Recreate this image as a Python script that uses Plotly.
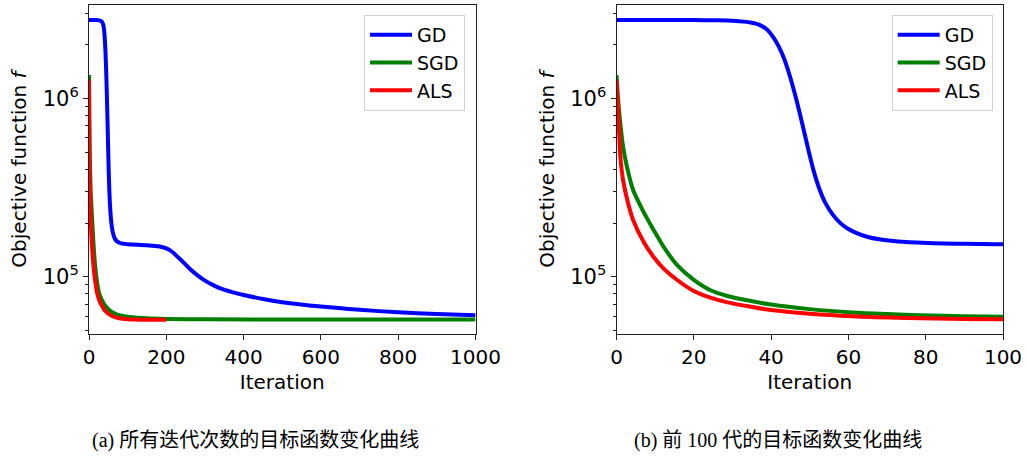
import plotly.graph_objects as go

# ---------------- data ----------------
gd_iter = [0, 10, 20, 26, 30, 33, 35, 37, 39, 40.5, 42, 43.5, 45, 46.5, 48, 49.5,
           51, 52.5, 54, 56, 58, 60, 62, 65, 68, 71, 75, 79, 85, 90, 100, 150, 180,
           200, 215, 228, 245, 262, 280, 297, 320, 340, 370, 400, 450, 500, 600, 700,
           800, 900, 1000]
gd_val = [2.75e6, 2.75e6, 2.745e6, 2.735e6, 2.72e6, 2.69e6, 2.65e6, 2.58e6, 2.42e6,
          2.21e6, 1.95e6, 1.64e6, 1.30e6, 9.9e5, 7.3e5, 5.3e5, 3.93e5, 3.1e5,
          2.6e5, 2.22e5, 1.99e5, 1.85e5, 1.76e5, 1.67e5, 1.62e5, 1.59e5, 1.565e5,
          1.55e5, 1.535e5, 1.53e5, 1.52e5, 1.50e5, 1.48e5, 1.44e5, 1.38e5, 1.30e5,
          1.20e5, 1.10e5, 1.02e5, 9.6e4, 9.0e4, 8.6e4, 8.2e4, 7.9e4, 7.5e4, 7.2e4,
          6.8e4, 6.52e4, 6.32e4, 6.18e4, 6.08e4]

sgd_iter = [0, 0.4, 0.9, 1.7, 2.6, 4.3, 7, 9.6, 12.2, 15.7, 20, 24.3, 28.7, 34.8, 40,
            50, 61, 70, 78.5, 90, 100, 150, 200, 300, 500, 1000]
sgd_val = [1.35e6, 1.0e6, 7.56e5, 5.36e5, 4.23e5, 3.06e5, 2.31e5, 1.83e5, 1.47e5,
           1.16e5, 9.6e4, 8.4e4, 7.8e4, 7.3e4, 6.98e4, 6.58e4, 6.3e4, 6.17e4, 6.08e4,
           6.01e4, 5.97e4, 5.85e4, 5.8e4, 5.77e4, 5.76e4, 5.75e4]

als_iter = [0, 0.3, 0.6, 1.0, 1.7, 3.0, 4.3, 7, 9.6, 12.2, 15.7, 20, 24.3, 28.7, 34.8,
            40, 50, 61, 75, 100, 150, 200]
als_val = [1.27e6, 9.3e5, 6.93e5, 4.71e5, 3.48e5, 2.58e5, 2.08e5, 1.57e5, 1.29e5,
           1.11e5, 9.58e4, 8.31e4, 7.63e4, 7.18e4, 6.79e4, 6.5e4, 6.2e4, 6.0e4,
           5.87e4, 5.77e4, 5.74e4, 5.73e4]

series_names = ["GD", "SGD", "ALS"]
captions = ["(a) 所有迭代次数的目标函数变化曲线", "(b) 前 100 代的目标函数变化曲线"]
x_ranges = [[0, 1000], [0, 100]]
x_dticks = [200, 20]
major_y = [1e5, 1e6]
major_y_text = ["10<sup>5</sup>", "10<sup>6</sup>"]
minor_y = [5e4, 6e4, 7e4, 8e4, 9e4, 2e5, 3e5, 4e5, 5e5, 6e5, 7e5, 8e5, 9e5, 2e6, 3e6]

# ---------------- figure ----------------
W, H = 1027, 463
colors = {"GD": "#0000ff", "SGD": "#008000", "ALS": "#ff0000"}
data = {"GD": (gd_iter, gd_val), "SGD": (sgd_iter, sgd_val), "ALS": (als_iter, als_val)}

fig = go.Figure()
for xa, ya, leg in [("x", "y", "legend"), ("x2", "y2", "legend2")]:
    for name in series_names:
        xs, ys = data[name]
        fig.add_trace(go.Scatter(
            x=xs, y=ys, mode="lines", name=name,
            line=dict(color=colors[name], width=4, shape="spline", smoothing=0.8),
            xaxis=xa, yaxis=ya, legend=leg, showlegend=True,
        ))

FONT = "DejaVu Sans"
AX = "#222222"
px = lambda v: v / W
py = lambda v: 1 - v / H

# axes box: x 89..475.5 / 616.5..1003, y 4.7..334.3 (window pixels)
TOP, BOT = 4.7, 334.3
dom_x = [[px(89), px(475.5)], [px(616.5), px(1003)]]
dom_y = [py(BOT), py(TOP)]
# log scale: 1e6 at y=98.3, 1e5 at y=276.7
DEC = 276.7 - 98.3
y_range = [5 - (BOT - 276.7) / DEC, 6 + (98.3 - TOP) / DEC]

common_x = dict(showline=True, linecolor=AX, linewidth=1, mirror=True, automargin=False,
                ticks="outside", ticklen=5, tickcolor=AX, showgrid=False, zeroline=False,
                tickfont=dict(family=FONT, size=20, color="black"),
                title=dict(text="Iteration", font=dict(family=FONT, size=20, color="black"),
                           standoff=6))
common_y = dict(type="log", range=y_range, showline=True, linecolor=AX, linewidth=1,
                mirror=True, automargin=False, ticks="outside", ticklen=5, tickcolor=AX,
                showgrid=False, zeroline=False, tickmode="array", tickvals=major_y,
                ticktext=major_y_text,
                tickfont=dict(family=FONT, size=21, color="black"),
                minor=dict(tickvals=minor_y, ticks="outside", ticklen=3, tickcolor=AX,
                           showgrid=False),
                title=dict(text="Objective function <i>f</i>",
                           font=dict(family=FONT, size=20, color="black"), standoff=10))

legend_style = dict(xanchor="right", yanchor="top", bgcolor="white",
                    bordercolor="#d0d0d0", borderwidth=1, itemwidth=42,
                    font=dict(family=FONT, size=19, color="black"))
fig.update_layout(
    width=W, height=H, margin=dict(l=0, r=0, t=0, b=0),
    paper_bgcolor="white", plot_bgcolor="white",
    xaxis=dict(domain=dom_x[0], anchor="y", range=x_ranges[0], dtick=x_dticks[0], tick0=0, **common_x),
    yaxis=dict(domain=dom_y, anchor="x", **common_y),
    xaxis2=dict(domain=dom_x[1], anchor="y2", range=x_ranges[1], dtick=x_dticks[1], tick0=0, **common_x),
    yaxis2=dict(domain=dom_y, anchor="x2", **common_y),
    legend=dict(x=px(465), y=py(15), **legend_style),
    legend2=dict(x=px(992.7), y=py(15), **legend_style),
    showlegend=True,
)

cap_x = [255, 778]
for cx, text in zip(cap_x, captions):
    fig.add_annotation(text=text, x=px(cx), y=py(440), xref="paper", yref="paper",
                       xanchor="center", yanchor="middle", showarrow=False,
                       font=dict(family="Liberation Serif, Noto Sans CJK SC", size=20, color="black"))

# remove the page's default body margin so the figure fills the window exactly
fig.write_html("out.html", config={"displayModeBar": False},
               post_script="document.body.style.margin='0';document.body.style.overflow='hidden';")
